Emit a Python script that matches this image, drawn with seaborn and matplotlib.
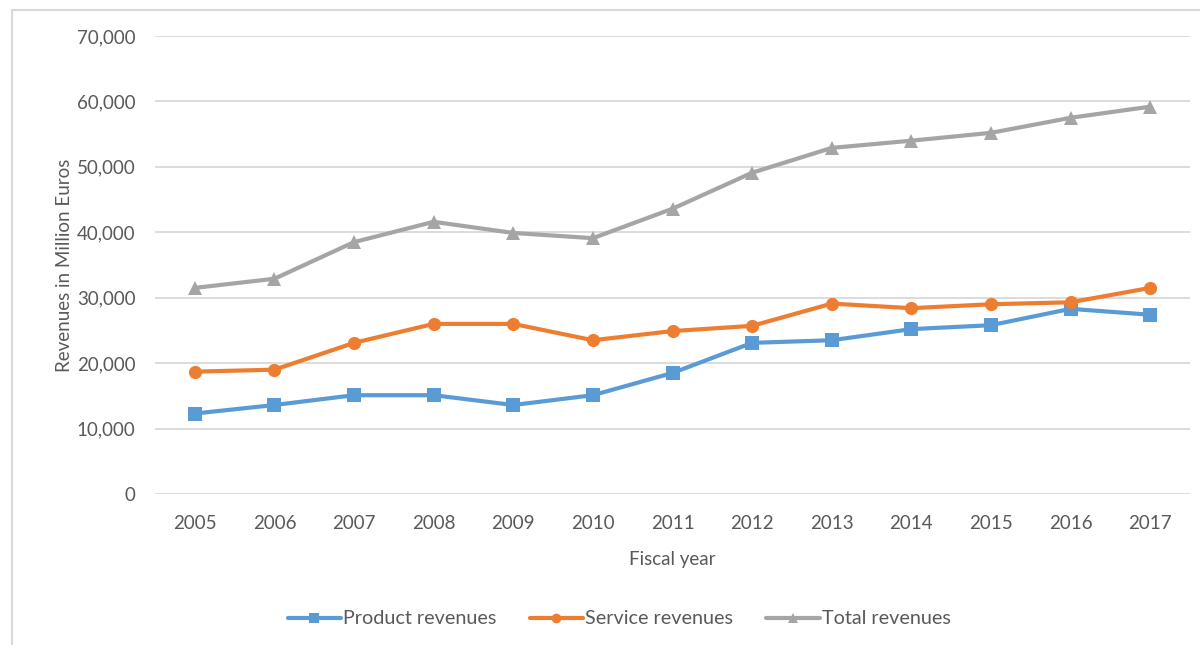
import matplotlib
matplotlib.use("Agg")
import matplotlib.pyplot as plt
from matplotlib.lines import Line2D
from matplotlib.ticker import FuncFormatter
import seaborn as sns
import pandas as pd

years = [2005, 2006, 2007, 2008, 2009, 2010, 2011, 2012, 2013, 2014, 2015, 2016, 2017]
product_revenues = [12300, 13600, 15100, 15100, 13600, 15100, 18500, 23100, 23500, 25200, 25800, 28300, 27400]
service_revenues = [18700, 19000, 23100, 26000, 26000, 23500, 24900, 25700, 29100, 28400, 29000, 29300, 31500]
total_revenues = [31500, 32900, 38500, 41600, 39900, 39100, 43600, 49100, 52900, 54000, 55200, 57500, 59200]
series_names = ["Product revenues", "Service revenues", "Total revenues"]
y_ticks = [0, 10000, 20000, 30000, 40000, 50000, 60000, 70000]

df = pd.DataFrame({
    "year": years * 3,
    "value": product_revenues + service_revenues + total_revenues,
    "series": [series_names[0]] * 13 + [series_names[1]] * 13 + [series_names[2]] * 13,
})

sns.set_theme(style="white")
plt.rcParams["font.family"] = ["Lato", "DejaVu Sans"]

text_color = "#595959"
grid_color = "#D9D9D9"
palette = {series_names[0]: "#5B9BD5", series_names[1]: "#ED7D31", series_names[2]: "#A5A5A5"}
markers = {series_names[0]: "s", series_names[1]: "o", series_names[2]: "^"}
fs = 13.5

fig = plt.figure(figsize=(12, 6.45), dpi=100)
ax = fig.add_axes([155 / 1200, 1 - 494 / 645, (1190 - 155) / 1200, (494 - 36) / 645])

sns.lineplot(data=df, x="year", y="value", hue="series", style="series",
             palette=palette, markers=markers, dashes=False, linewidth=3,
             markersize=9.5, markeredgewidth=0, ax=ax, legend=True)

ax.set_xlim(2004.5, 2017.5)
ax.set_ylim(0, 70000)
ax.set_yticks(y_ticks)
ax.set_xticks(years)
ax.yaxis.set_major_formatter(FuncFormatter(lambda v, p: f"{int(v):,}"))
ax.grid(axis="y", color=grid_color, linewidth=1.3)
ax.set_axisbelow(True)
for s in ax.spines.values():
    s.set_visible(False)
ax.tick_params(axis="y", length=0, pad=14, labelsize=fs, labelcolor=text_color)
ax.tick_params(axis="x", length=0, pad=15, labelsize=fs, labelcolor=text_color)

ax.set_xlabel("Fiscal year", fontsize=fs, color=text_color, labelpad=14)
ax.set_ylabel("Revenues in Million Euros", fontsize=fs, color=text_color, labelpad=3)

handles, labels = ax.get_legend_handles_labels()
if ax.get_legend() is not None:
    ax.get_legend().remove()
for h in handles:
    h.set_markersize(7)
fig.legend(handles, labels, loc="center", bbox_to_anchor=(619 / 1200, 1 - 619 / 645),
           ncol=3, frameon=False, fontsize=14.2, labelcolor=text_color,
           handlelength=2.7, handletextpad=0.1, columnspacing=1.7)

# outer chart frame (top and left edges visible)
fig.add_artist(Line2D([12 / 1200, 1], [1 - 9.5 / 645] * 2, color=grid_color, lw=1.5))
fig.add_artist(Line2D([12 / 1200] * 2, [0, 1 - 9.5 / 645], color=grid_color, lw=1.5))

fig.savefig("out.png", dpi=100, facecolor="white")
